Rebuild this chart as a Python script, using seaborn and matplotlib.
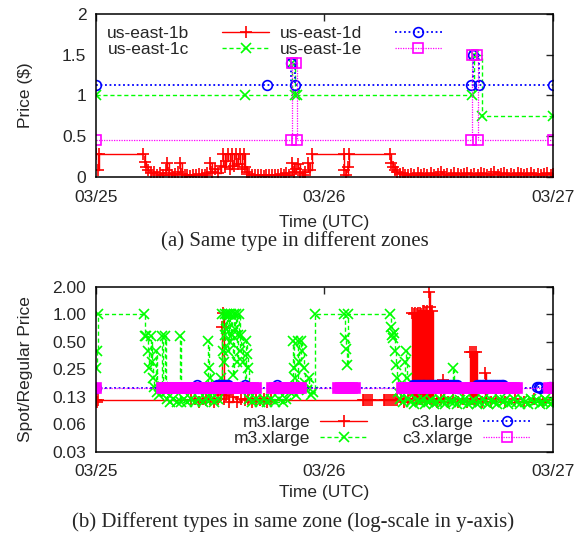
import matplotlib
matplotlib.use("Agg")
import matplotlib.pyplot as plt
import seaborn as sns
from matplotlib.lines import Line2D
from matplotlib.ticker import NullLocator

# hours since 03/25 00:00 UTC, value
# (a) same instance type, different zones  -> price in $
zone_1b = [(0.0, 0.28), (0.2, 0.09), (0.35, 0.28), (4.9, 0.28), (5.1, 0.18), (5.3, 0.12), (5.5, 0.08),
           (5.8, 0.05), (6.1, 0.06), (6.4, 0.03), (6.7, 0.05), (7.0, 0.02), (7.3, 0.08), (7.5, 0.17),
           (7.7, 0.05), (8.0, 0.02), (8.3, 0.04), (8.6, 0.06), (8.8, 0.17), (9.0, 0.04), (9.3, 0.02),
           (9.6, 0.03), (9.9, 0.01), (10.2, 0.03), (10.5, 0.02), (10.8, 0.04), (11.1, 0.02), (11.4, 0.03),
           (11.7, 0.05), (12.0, 0.17), (12.2, 0.06), (12.5, 0.10), (12.8, 0.05), (13.1, 0.13), (13.3, 0.28),
           (13.5, 0.12), (13.7, 0.20), (13.9, 0.28), (14.1, 0.10), (14.3, 0.28), (14.5, 0.13), (14.7, 0.28),
           (14.9, 0.16), (15.1, 0.28), (15.3, 0.10), (15.5, 0.28), (15.7, 0.12), (15.9, 0.06), (16.1, 0.04),
           (16.4, 0.03), (16.7, 0.02), (17.0, 0.03), (17.3, 0.02), (17.6, 0.01), (17.9, 0.02), (18.2, 0.03),
           (18.5, 0.02), (18.8, 0.03), (19.1, 0.02), (19.4, 0.04), (19.7, 0.02), (20.0, 0.05), (20.3, 0.03),
           (20.6, 0.17), (20.8, 0.06), (21.0, 0.10), (21.2, 0.16), (21.4, 0.05), (21.7, 0.02), (22.0, 0.06),
           (22.3, 0.17), (22.5, 0.08), (22.7, 0.28), (26.0, 0.28), (26.1, 0.08), (26.3, 0.03), (26.5, 0.12),
           (26.6, 0.28), (30.9, 0.28), (31.0, 0.17), (31.2, 0.12), (31.4, 0.08), (31.6, 0.06), (31.9, 0.04),
           (32.2, 0.05), (32.5, 0.03), (32.8, 0.02), (33.1, 0.04), (33.4, 0.03), (33.8, 0.05), (34.1, 0.03),
           (34.5, 0.04), (34.8, 0.03), (35.2, 0.05), (35.5, 0.03), (35.9, 0.04), (36.2, 0.06), (36.6, 0.03),
           (36.9, 0.04), (37.3, 0.03), (37.6, 0.05), (38.0, 0.04), (38.3, 0.03), (38.7, 0.04), (39.0, 0.05),
           (39.4, 0.03), (39.7, 0.04), (40.1, 0.03), (40.4, 0.05), (40.8, 0.04), (41.1, 0.03), (41.5, 0.04),
           (41.8, 0.06), (42.2, 0.03), (42.5, 0.04), (42.9, 0.05), (43.2, 0.03), (43.6, 0.04), (43.9, 0.03),
           (44.3, 0.05), (44.6, 0.04), (45.0, 0.03), (45.3, 0.04), (45.7, 0.05), (46.0, 0.03), (46.4, 0.04),
           (46.7, 0.03), (47.1, 0.04), (47.4, 0.05), (47.8, 0.03), (48.0, 0.04)]
zone_1c = [(0.0, 1.0), (15.6, 1.0), (20.6, 1.4), (20.9, 1.0), (21.1, 1.0), (39.45, 1.0), (39.7, 1.5),
           (40.5, 0.75), (48.0, 0.75)]
zone_1d = [(0.0, 1.13), (18.0, 1.13), (20.5, 1.40), (20.9, 1.13), (39.4, 1.13), (39.6, 1.50),
           (40.2, 1.13), (48.0, 1.13)]
zone_1e = [(0.0, 0.45), (20.5, 0.45), (20.6, 1.40), (21.0, 1.40), (21.1, 0.45), (39.4, 0.45),
           (39.5, 1.50), (40.0, 1.50), (40.1, 0.45), (48.0, 0.45)]

# (b) different types, same zone -> spot / regular price
m3_large = [(0.0, 0.117), (0.1, 0.11), (0.2, 0.117), (10.0, 0.117), (10.4, 0.12), (10.8, 0.11), (11.2, 0.12),
            (11.6, 0.115), (12.0, 0.12), (12.4, 0.11), (12.8, 0.12), (13.1, 0.13), (13.2, 0.73), (13.3, 1.05),
            (13.4, 0.12), (13.7, 0.13), (14.0, 0.11), (14.4, 0.125), (14.8, 0.11), (15.2, 0.12), (15.6, 0.115),
            (16.0, 0.12), (16.4, 0.11), (16.8, 0.12), (17.2, 0.115), (17.6, 0.12), (18.0, 0.11), (18.4, 0.117),
            (28.0, 0.117), (28.2, 0.117), (28.4, 0.117), (28.6, 0.117), (28.8, 0.117), (29.0, 0.117),
            (30.2, 0.117), (30.4, 0.117), (30.6, 0.117), (30.8, 0.117), (31.0, 0.117), (31.2, 0.117),
            (31.4, 0.117), (31.6, 0.117), (32.0, 0.12), (32.4, 0.11), (32.8, 0.12),
            (33.2, 1.05), (33.28, 0.12), (33.36, 1.0), (33.44, 0.13), (33.52, 1.05), (33.6, 0.12),
            (33.68, 1.0), (33.76, 0.12), (33.84, 1.05), (33.92, 0.13), (34.0, 1.05), (34.08, 0.12),
            (34.16, 1.0), (34.24, 0.12), (34.32, 1.1), (34.4, 0.13), (34.48, 1.1), (34.56, 0.12),
            (34.64, 1.05), (34.72, 0.12), (34.8, 1.1), (34.88, 0.13), (34.96, 1.77), (35.04, 0.12),
            (35.12, 1.2), (35.2, 0.12), (35.28, 1.1), (35.36, 0.12),
            (35.8, 0.11), (36.2, 0.12), (36.5, 0.19), (36.6, 0.12), (37.0, 0.11), (37.5, 0.12), (38.0, 0.11),
            (38.5, 0.12), (39.0, 0.11), (39.3, 0.39), (39.4, 0.12), (39.5, 0.39), (39.6, 0.12),
            (39.7, 0.39), (39.8, 0.12), (39.9, 0.39), (40.0, 0.12), (40.5, 0.11), (40.9, 0.23),
            (41.0, 0.12), (41.5, 0.11), (42.0, 0.12), (43.0, 0.11), (44.0, 0.12), (45.0, 0.11),
            (46.0, 0.12), (47.0, 0.11), (48.0, 0.117)]
m3_xlarge = [(0.0, 0.26), (0.1, 0.40), (0.2, 1.00), (5.0, 1.00), (5.1, 0.58), (5.3, 0.58), (5.5, 0.40),
             (5.6, 0.26), (5.8, 0.58), (5.9, 0.30), (6.0, 0.20), (6.1, 0.16), (6.3, 0.40), (6.4, 0.14),
             (6.6, 0.13), (6.9, 0.58), (7.0, 0.16), (7.2, 0.58), (7.3, 0.14), (7.5, 0.12), (7.8, 0.11),
             (8.1, 0.12), (8.5, 0.11), (8.8, 0.58), (8.9, 0.11), (9.2, 0.12), (9.6, 0.11), (10.0, 0.12),
             (10.4, 0.11), (10.8, 0.12), (11.2, 0.11), (11.6, 0.12), (11.8, 0.51), (11.9, 0.26), (12.0, 0.20),
             (12.1, 0.12), (12.4, 0.11), (12.8, 0.12), (13.1, 0.20), (13.2, 1.00), (13.3, 0.40), (13.4, 0.30),
             (13.5, 0.60), (13.6, 1.00), (13.7, 0.70), (13.8, 1.00), (13.9, 0.40), (14.0, 1.00), (14.1, 0.50),
             (14.2, 1.00), (14.3, 0.60), (14.4, 0.22), (14.5, 1.00), (14.6, 0.70), (14.7, 1.00), (14.8, 0.30),
             (14.9, 0.60), (15.0, 1.00), (15.1, 0.40), (15.2, 0.60), (15.4, 0.30), (15.6, 0.16), (15.8, 0.51),
             (15.9, 0.37), (16.0, 0.26), (16.1, 0.12), (16.4, 0.11), (16.8, 0.12), (17.2, 0.11), (17.6, 0.12),
             (18.0, 0.11), (18.4, 0.12), (18.8, 0.11), (19.2, 0.12), (19.6, 0.11), (20.0, 0.12), (20.4, 0.14),
             (20.7, 0.51), (20.8, 0.26), (20.9, 0.20), (21.0, 0.13), (21.2, 0.51), (21.3, 0.30), (21.5, 0.51),
             (21.6, 0.40), (21.8, 0.26), (22.0, 0.18), (22.2, 0.15), (22.4, 0.20), (22.6, 0.13), (22.8, 0.14),
             (23.0, 1.00), (26.1, 1.00), (26.2, 0.55), (26.3, 0.42), (26.4, 0.28), (26.5, 1.00), (30.9, 1.00),
             (31.0, 0.73), (31.1, 0.60), (31.2, 0.55), (31.3, 0.63), (31.4, 0.40), (31.5, 0.28), (31.6, 0.20),
             (31.7, 0.14), (31.9, 0.12), (32.2, 0.11), (32.5, 0.30), (32.6, 0.40), (32.7, 0.20), (32.8, 0.12),
             (33.1, 0.11), (33.4, 0.105), (33.7, 0.115), (34.0, 0.11), (34.3, 0.12), (34.6, 0.105),
             (34.9, 0.11), (35.2, 0.115), (35.5, 0.105), (35.8, 0.11), (36.1, 0.12), (36.4, 0.11),
             (36.7, 0.105), (37.0, 0.115), (37.3, 0.11), (37.5, 0.26), (37.6, 0.11), (37.9, 0.105),
             (38.2, 0.115), (38.5, 0.11), (38.8, 0.12), (39.1, 0.105), (39.4, 0.11), (39.7, 0.115),
             (40.0, 0.105), (40.3, 0.11), (40.6, 0.12), (40.9, 0.11), (41.2, 0.105), (41.5, 0.115),
             (41.8, 0.11), (42.1, 0.105), (42.4, 0.12), (42.7, 0.11), (43.0, 0.115), (43.3, 0.105),
             (43.6, 0.11), (43.9, 0.12), (44.2, 0.11), (44.5, 0.105), (44.8, 0.115), (45.1, 0.11),
             (45.4, 0.105), (45.7, 0.12), (46.0, 0.11), (46.3, 0.115), (46.6, 0.105), (46.9, 0.11),
             (47.2, 0.12), (47.5, 0.11), (47.8, 0.105), (48.0, 0.11)]
c3_large = [(0.0, 0.158), (10.6, 0.17), (10.7, 0.158), (12.7, 0.17), (12.9, 0.17), (13.1, 0.17),
            (13.3, 0.17), (13.5, 0.17), (13.7, 0.17), (13.9, 0.17), (14.1, 0.158), (15.6, 0.17),
            (15.7, 0.158), (19.0, 0.17), (19.1, 0.158),
            (33.3, 0.17), (33.5, 0.17), (33.7, 0.17), (33.9, 0.17), (34.1, 0.17), (34.3, 0.17),
            (34.5, 0.17), (34.7, 0.17), (34.9, 0.17), (35.1, 0.17), (35.3, 0.17), (35.5, 0.17),
            (35.7, 0.17), (35.9, 0.17), (36.1, 0.17), (36.3, 0.17), (36.5, 0.17), (36.7, 0.17),
            (36.9, 0.17), (37.1, 0.17), (37.3, 0.17), (37.5, 0.17), (37.7, 0.17), (37.9, 0.17),
            (38.0, 0.158),
            (40.0, 0.17), (40.2, 0.17), (40.4, 0.17), (40.6, 0.17), (40.8, 0.17), (41.0, 0.17),
            (41.2, 0.17), (41.4, 0.17), (41.6, 0.17), (41.8, 0.17), (42.0, 0.17), (42.2, 0.17),
            (42.4, 0.17), (42.6, 0.17), (42.8, 0.17), (42.9, 0.158),
            (46.3, 0.162), (46.5, 0.162), (46.6, 0.158), (47.7, 0.162), (48.0, 0.158)]
c3_xlarge_hours = [0.0,
                   6.9, 7.2, 7.5, 7.8, 8.1, 8.4, 8.7, 9.0, 9.3, 9.6, 9.9, 10.2, 10.5, 10.8, 11.1, 11.4, 11.7,
                   12.0, 12.3, 12.6, 12.9, 13.2, 13.5, 13.8, 14.1, 14.4, 14.7, 15.0, 15.3, 15.6, 15.9, 16.2,
                   16.5, 16.8,
                   18.5, 18.8, 19.1, 19.4, 19.7, 20.0, 20.3, 20.6, 20.9, 21.2, 21.5,
                   25.4, 25.7, 26.0, 26.3, 26.6, 26.9, 27.2,
                   32.1, 32.4, 32.7, 33.0, 33.3, 33.6, 33.9, 34.2, 34.5, 34.8, 35.1, 35.4, 35.7, 36.0, 36.3,
                   36.6, 36.9, 37.2, 37.5, 37.8,
                   38.8, 39.1, 39.4, 39.7, 40.0, 40.3, 40.6, 40.9, 41.2, 41.5, 41.8, 42.1, 42.4, 42.7, 43.0,
                   43.3, 43.6, 43.9, 44.2,
                   47.6, 48.0]
c3_xlarge_level = 0.158

day_ticks = [0, 24, 48]
day_labels = ["03/25", "03/26", "03/27"]
price_ticks = [0, 0.5, 1, 1.5, 2]
price_labels = ["0", "0.5", "1", "1.5", "2"]
ratio_ticks = [2 ** -5, 2 ** -4, 2 ** -3, 2 ** -2, 2 ** -1, 1, 2]
ratio_labels = ["0.03", "0.06", "0.13", "0.25", "0.50", "1.00", "2.00"]

RED, GREEN, BLUE, MAG = "#ff0000", "#00ff00", "#0000ff", "#ff00ff"

sns.set_style("white")
plt.rcParams["font.family"] = ["Liberation Sans", "DejaVu Sans"]
plt.rcParams["font.size"] = 12.5

SERIF = ["Liberation Serif", "DejaVu Serif"]


def draw(ax, pairs, color, marker, ls, lw, ms, face="none"):
    t = [p[0] for p in pairs]
    v = [p[1] for p in pairs]
    sns.lineplot(x=t, y=v, ax=ax, color=color, marker=marker, linestyle=ls, lw=lw,
                 markersize=ms, markeredgecolor=color, markerfacecolor=face, mew=1.2,
                 drawstyle="steps-post", estimator=None, sort=False, legend=False)
    return ax.lines[-1]


def key(color, marker, ls, lw, ms):
    return Line2D([], [], color=color, marker=marker, linestyle=ls, lw=lw, markersize=ms,
                  markeredgecolor=color, markerfacecolor="none", mew=1.2)


def style_axes(ax, label_y):
    ax.set_xlim(0, 48)
    ax.set_xticks(day_ticks)
    ax.set_xticklabels(day_labels)
    ax.tick_params(direction="in", top=True, right=True, length=5, width=1, labelsize=12.5)
    ax.tick_params(axis="x", pad=9)
    ax.tick_params(axis="y", pad=7)
    for s in ax.spines.values():
        s.set_color("black")
        s.set_linewidth(1.1)
    ax.set_xlabel("Time (UTC)", fontsize=12.5)
    ax.xaxis.set_label_coords(0.5, label_y)


fig = plt.figure(figsize=(5.83, 5.4), dpi=100)
ax1 = fig.add_axes([0.1647, 0.6722, 0.7838, 0.3019])
ax2 = fig.add_axes([0.1647, 0.1630, 0.7838, 0.3056])

styles = [(RED, "+", "-", 1.0, 8), (GREEN, "x", (0, (3, 2)), 1.0, 7),
          (BLUE, "o", (0, (1, 1.5)), 1.3, 7), (MAG, "s", (0, (1, 1)), 0.9, 7)]

# (a)
for pairs, st in zip([zone_1b, zone_1c, zone_1d, zone_1e], styles):
    draw(ax1, pairs, *st)
style_axes(ax1, -0.235)
ax1.set_ylim(0, 2)
ax1.set_yticks(price_ticks)
ax1.set_yticklabels(price_labels)
ax1.set_ylabel("Price ($)", fontsize=12.5)
ax1.yaxis.set_label_coords(-0.138, 0.5)
ax1.legend([key(*s) for s in styles], ["us-east-1b", "us-east-1c", "us-east-1d", "us-east-1e"],
           ncol=2, markerfirst=False, frameon=False, loc="upper left",
           bbox_to_anchor=(-0.006, 1.01), borderpad=0.3, handlelength=2.7,
           handletextpad=1.9, columnspacing=0.6, labelspacing=0.05, numpoints=1,
           fontsize=12.5)

# (b)
draw(ax2, m3_large, *styles[0])
draw(ax2, m3_xlarge, *styles[1])
draw(ax2, c3_large, *styles[2])
draw(ax2, [(h, c3_xlarge_level) for h in c3_xlarge_hours], *styles[3], face=MAG)
ax2.set_yscale("log", base=2)
style_axes(ax2, -0.2)
ax2.set_ylim(2 ** -5, 2)
ax2.set_yticks(ratio_ticks)
ax2.set_yticklabels(ratio_labels)
ax2.yaxis.set_minor_locator(NullLocator())
ax2.set_ylabel("Spot/Regular Price", fontsize=12.5)
ax2.yaxis.set_label_coords(-0.138, 0.5)
ax2.legend([key(*s) for s in styles], ["m3.large", "m3.xlarge", "c3.large", "c3.xlarge"],
           ncol=2, markerfirst=False, frameon=False, loc="lower right",
           bbox_to_anchor=(0.98, -0.05), borderpad=0.3, handlelength=2.7,
           handletextpad=0.6, columnspacing=2.0, labelspacing=0.05, numpoints=1,
           fontsize=12.5)

fig.text(0.505, 1 - 241 / 540, "(a) Same type in different zones", ha="center", va="center",
         family=SERIF, fontsize=15)
fig.text(0.503, 1 - 522 / 540, "(b) Different types in same zone (log-scale in y-axis)",
         ha="center", va="center", family=SERIF, fontsize=15)

fig.savefig("out.png", dpi=100)
